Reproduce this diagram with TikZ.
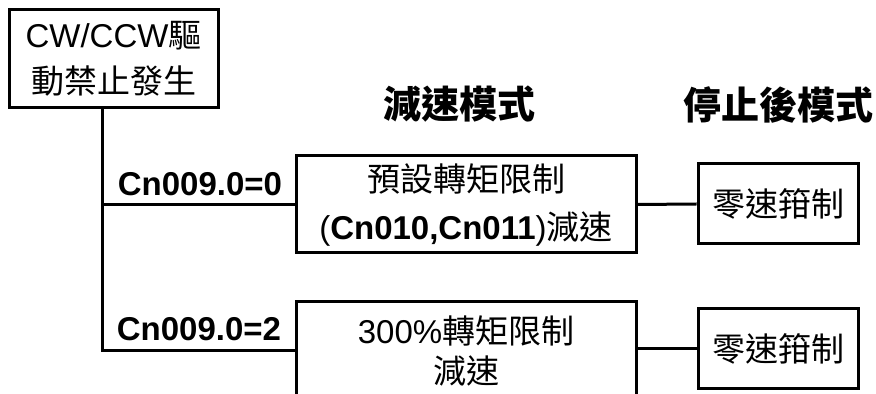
\documentclass[tikz,border=0pt]{standalone}
\usepackage{fontspec}
\setmainfont{Liberation Sans}
\newfontfamily\cjkfont{Noto Sans CJK TC}
\newcommand{\zh}[1]{{\cjkfont #1}}
\tikzset{
  box/.style={draw,line width=1.5pt,inner sep=0pt,align=center,
    font=\fontsize{16.5}{23}\selectfont},
  cond/.style={font=\fontsize{16.5}{20}\selectfont\bfseries},
  head/.style={font=\fontsize{19}{22}\selectfont\bfseries},
  wire/.style={line width=1.5pt}
}
\begin{document}
\begin{tikzpicture}[x=0.5pt,y=-0.5pt]
\clip (0,0) rectangle (876,394);
\node[box,minimum width=104.5pt,minimum height=49pt] (start) at (113.5,59) {CW/CCW\zh{驅}\\\zh{動禁止發生}};
\node[head] (hdec) at (459,104) {\zh{減速模式}};
\node[head] (hstop) at (778,105) {\zh{停止後模式}};
\node[box,minimum width=170pt,minimum height=48.5pt,font=\fontsize{16.5}{24}\selectfont] (dec1) at (466,204.5) {\zh{預設轉矩限制}\\({\bfseries Cn010,Cn011})\zh{減速}};
\node[box,minimum width=170pt,minimum height=48.5pt,font=\fontsize{16.5}{22}\selectfont] (dec2) at (466,350.5) {300\%\zh{轉矩限制}\\[-2pt]\zh{減速}};
\node[box,minimum width=80pt,minimum height=40pt] (stop1) at (778,204) {\zh{零速箝制}};
\node[box,minimum width=80pt,minimum height=40pt] (stop2) at (778,348.5) {\zh{零速箝制}};
\node[cond] (c0) at (200,184) {Cn009.0=0};
\node[cond] (c2) at (199,329) {Cn009.0=2};
\coordinate (k) at (102,0);
\draw[wire] (start.south -| k) -- (dec2.west -| k) -- (dec2.west);
\draw[wire] (dec1.west -| k) -- (dec1.west);
\draw[wire] (dec1.east) -- (stop1.west);
\draw[wire] (dec2.east |- stop2.west) -- (stop2.west);
\end{tikzpicture}
\end{document}
